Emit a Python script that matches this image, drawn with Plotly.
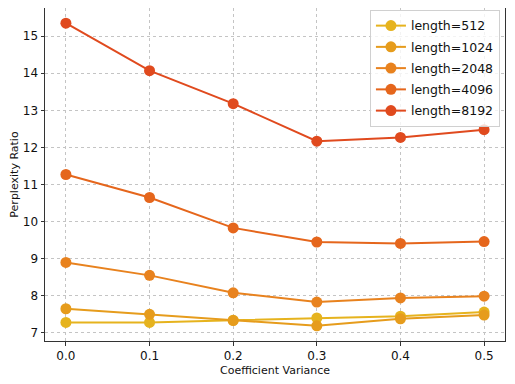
import plotly.graph_objects as go

cv = [0.0, 0.1, 0.2, 0.3, 0.4, 0.5]

len_512 = [7.28, 7.28, 7.34, 7.40, 7.45, 7.56]
len_1024 = [7.65, 7.50, 7.33, 7.19, 7.38, 7.48]
len_2048 = [8.90, 8.55, 8.08, 7.83, 7.94, 7.99]
len_4096 = [11.27, 10.65, 9.83, 9.45, 9.41, 9.46]
len_8192 = [15.35, 14.07, 13.18, 12.17, 12.27, 12.48]

names = ["length=512", "length=1024", "length=2048", "length=4096", "length=8192"]
series = [len_512, len_1024, len_2048, len_4096, len_8192]
colors = ["#e6b31e", "#e69c1c", "#e8821e", "#e5661c", "#e04a1e"]

_FONT = "DejaVu Sans, sans-serif"
_GRID = "#c4c4c4"

fig = go.Figure()
for name, ys, c in zip(names, series, colors):
    fig.add_trace(go.Scatter(
        x=cv, y=ys, mode="lines+markers", name=name, legendgroup=name,
        line=dict(color=c, width=2),
        marker=dict(color=c, size=11),
    ))

axis_common = dict(
    showgrid=True, gridcolor=_GRID, griddash="dot", gridwidth=1,
    showline=True, linecolor="#333", linewidth=1, mirror=True,
    ticks="outside", ticklen=3.5, tickcolor="#333",
    zeroline=False, automargin=False,
    tickfont=dict(family=_FONT, size=12, color="#111"),
    title_font=dict(family=_FONT, size=11, color="#111"),
)
fig.update_xaxes(**axis_common, range=[-0.025, 0.525], tickvals=cv,
                 ticktext=["0.0", "0.1", "0.2", "0.3", "0.4", "0.5"],
                 title_text="Coefficient Variance", title_standoff=4)
fig.update_yaxes(**axis_common, range=[6.78, 15.76], dtick=1,
                 title_text="Perplexity Ratio", title_standoff=6)

# page body adds an 8px offset, so the figure is sized to fit the window
fig.update_layout(
    width=507, height=376,
    paper_bgcolor="white", plot_bgcolor="white",
    font=dict(family=_FONT, color="#111"),
    margin=dict(l=37, r=10, t=0, b=43, pad=0),
    showlegend=True,
    legend=dict(
        x=0.989, y=0.994, xanchor="right", yanchor="top",
        bgcolor="rgba(255,255,255,0.8)", bordercolor="#d0d0d0", borderwidth=1,
        font=dict(family=_FONT, size=12.5, color="#111"),
        itemwidth=30, tracegroupgap=2,
    ),
)

fig.write_html("out.html")
